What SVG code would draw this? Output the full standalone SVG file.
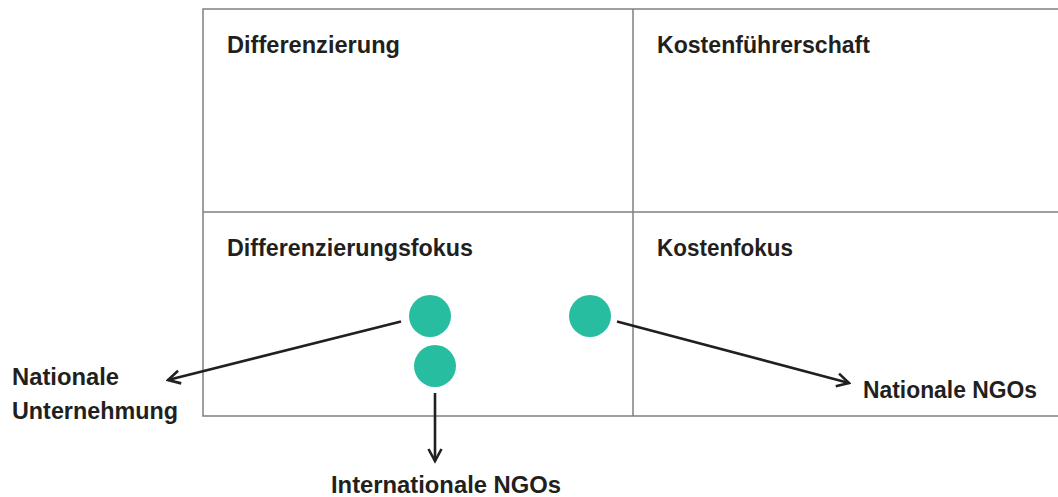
<svg xmlns="http://www.w3.org/2000/svg" width="1058" height="497" viewBox="0 0 1058 497">
<style>
.grid{fill:none;stroke:#808080;stroke-width:1.5}
.lbl{font-family:"Liberation Sans",Arial,sans-serif;font-weight:bold;font-size:23.5px;fill:#231f20}
.dot{fill:#27bda1}
.con{fill:none;stroke:#231f20;stroke-width:2.6}
</style>
<defs>
<marker id="arr" viewBox="0 0 16 16" refX="13.5" refY="8" markerWidth="16" markerHeight="16" markerUnits="userSpaceOnUse" orient="auto">
<path d="M1.5,1.5 L13.5,8 L1.5,14.5" fill="none" stroke="#231f20" stroke-width="2.6"/>
</marker>
</defs>
<g id="matrix">
<path class="grid" d="M1060,9 H203 V416 H1060 M633,9 V416 M203,212 H1060"/>
</g>
<g id="q-differenzierung"><text class="lbl" x="227" y="53" textLength="173" lengthAdjust="spacingAndGlyphs">Differenzierung</text></g>
<g id="q-kostenfuehrerschaft"><text class="lbl" x="657" y="53" textLength="213" lengthAdjust="spacingAndGlyphs">Kostenführerschaft</text></g>
<g id="q-differenzierungsfokus"><text class="lbl" x="227" y="256" textLength="246" lengthAdjust="spacingAndGlyphs">Differenzierungsfokus</text></g>
<g id="q-kostenfokus"><text class="lbl" x="657" y="256" textLength="136" lengthAdjust="spacingAndGlyphs">Kostenfokus</text></g>
<g id="dot1"><circle class="dot" cx="430" cy="316" r="21"/></g>
<g id="dot2"><circle class="dot" cx="435" cy="366" r="21"/></g>
<g id="dot3"><circle class="dot" cx="590" cy="316" r="21"/></g>
<g id="connectors">
<line class="con" x1="401" y1="321.5" x2="168" y2="380" marker-end="url(#arr)"/>
<line class="con" x1="435" y1="393" x2="435" y2="461" marker-end="url(#arr)"/>
<line class="con" x1="617" y1="321.5" x2="849" y2="383" marker-end="url(#arr)"/>
</g>
<g id="label-nationale-unternehmung">
<text class="lbl" x="12" y="385" textLength="107" lengthAdjust="spacingAndGlyphs">Nationale</text>
<text class="lbl" x="12" y="419" textLength="166" lengthAdjust="spacingAndGlyphs">Unternehmung</text>
</g>
<g id="label-internationale-ngos"><text class="lbl" x="331" y="493" textLength="230" lengthAdjust="spacingAndGlyphs">Internationale NGOs</text></g>
<g id="label-nationale-ngos"><text class="lbl" x="863" y="398" textLength="174" lengthAdjust="spacingAndGlyphs">Nationale NGOs</text></g>
</svg>
